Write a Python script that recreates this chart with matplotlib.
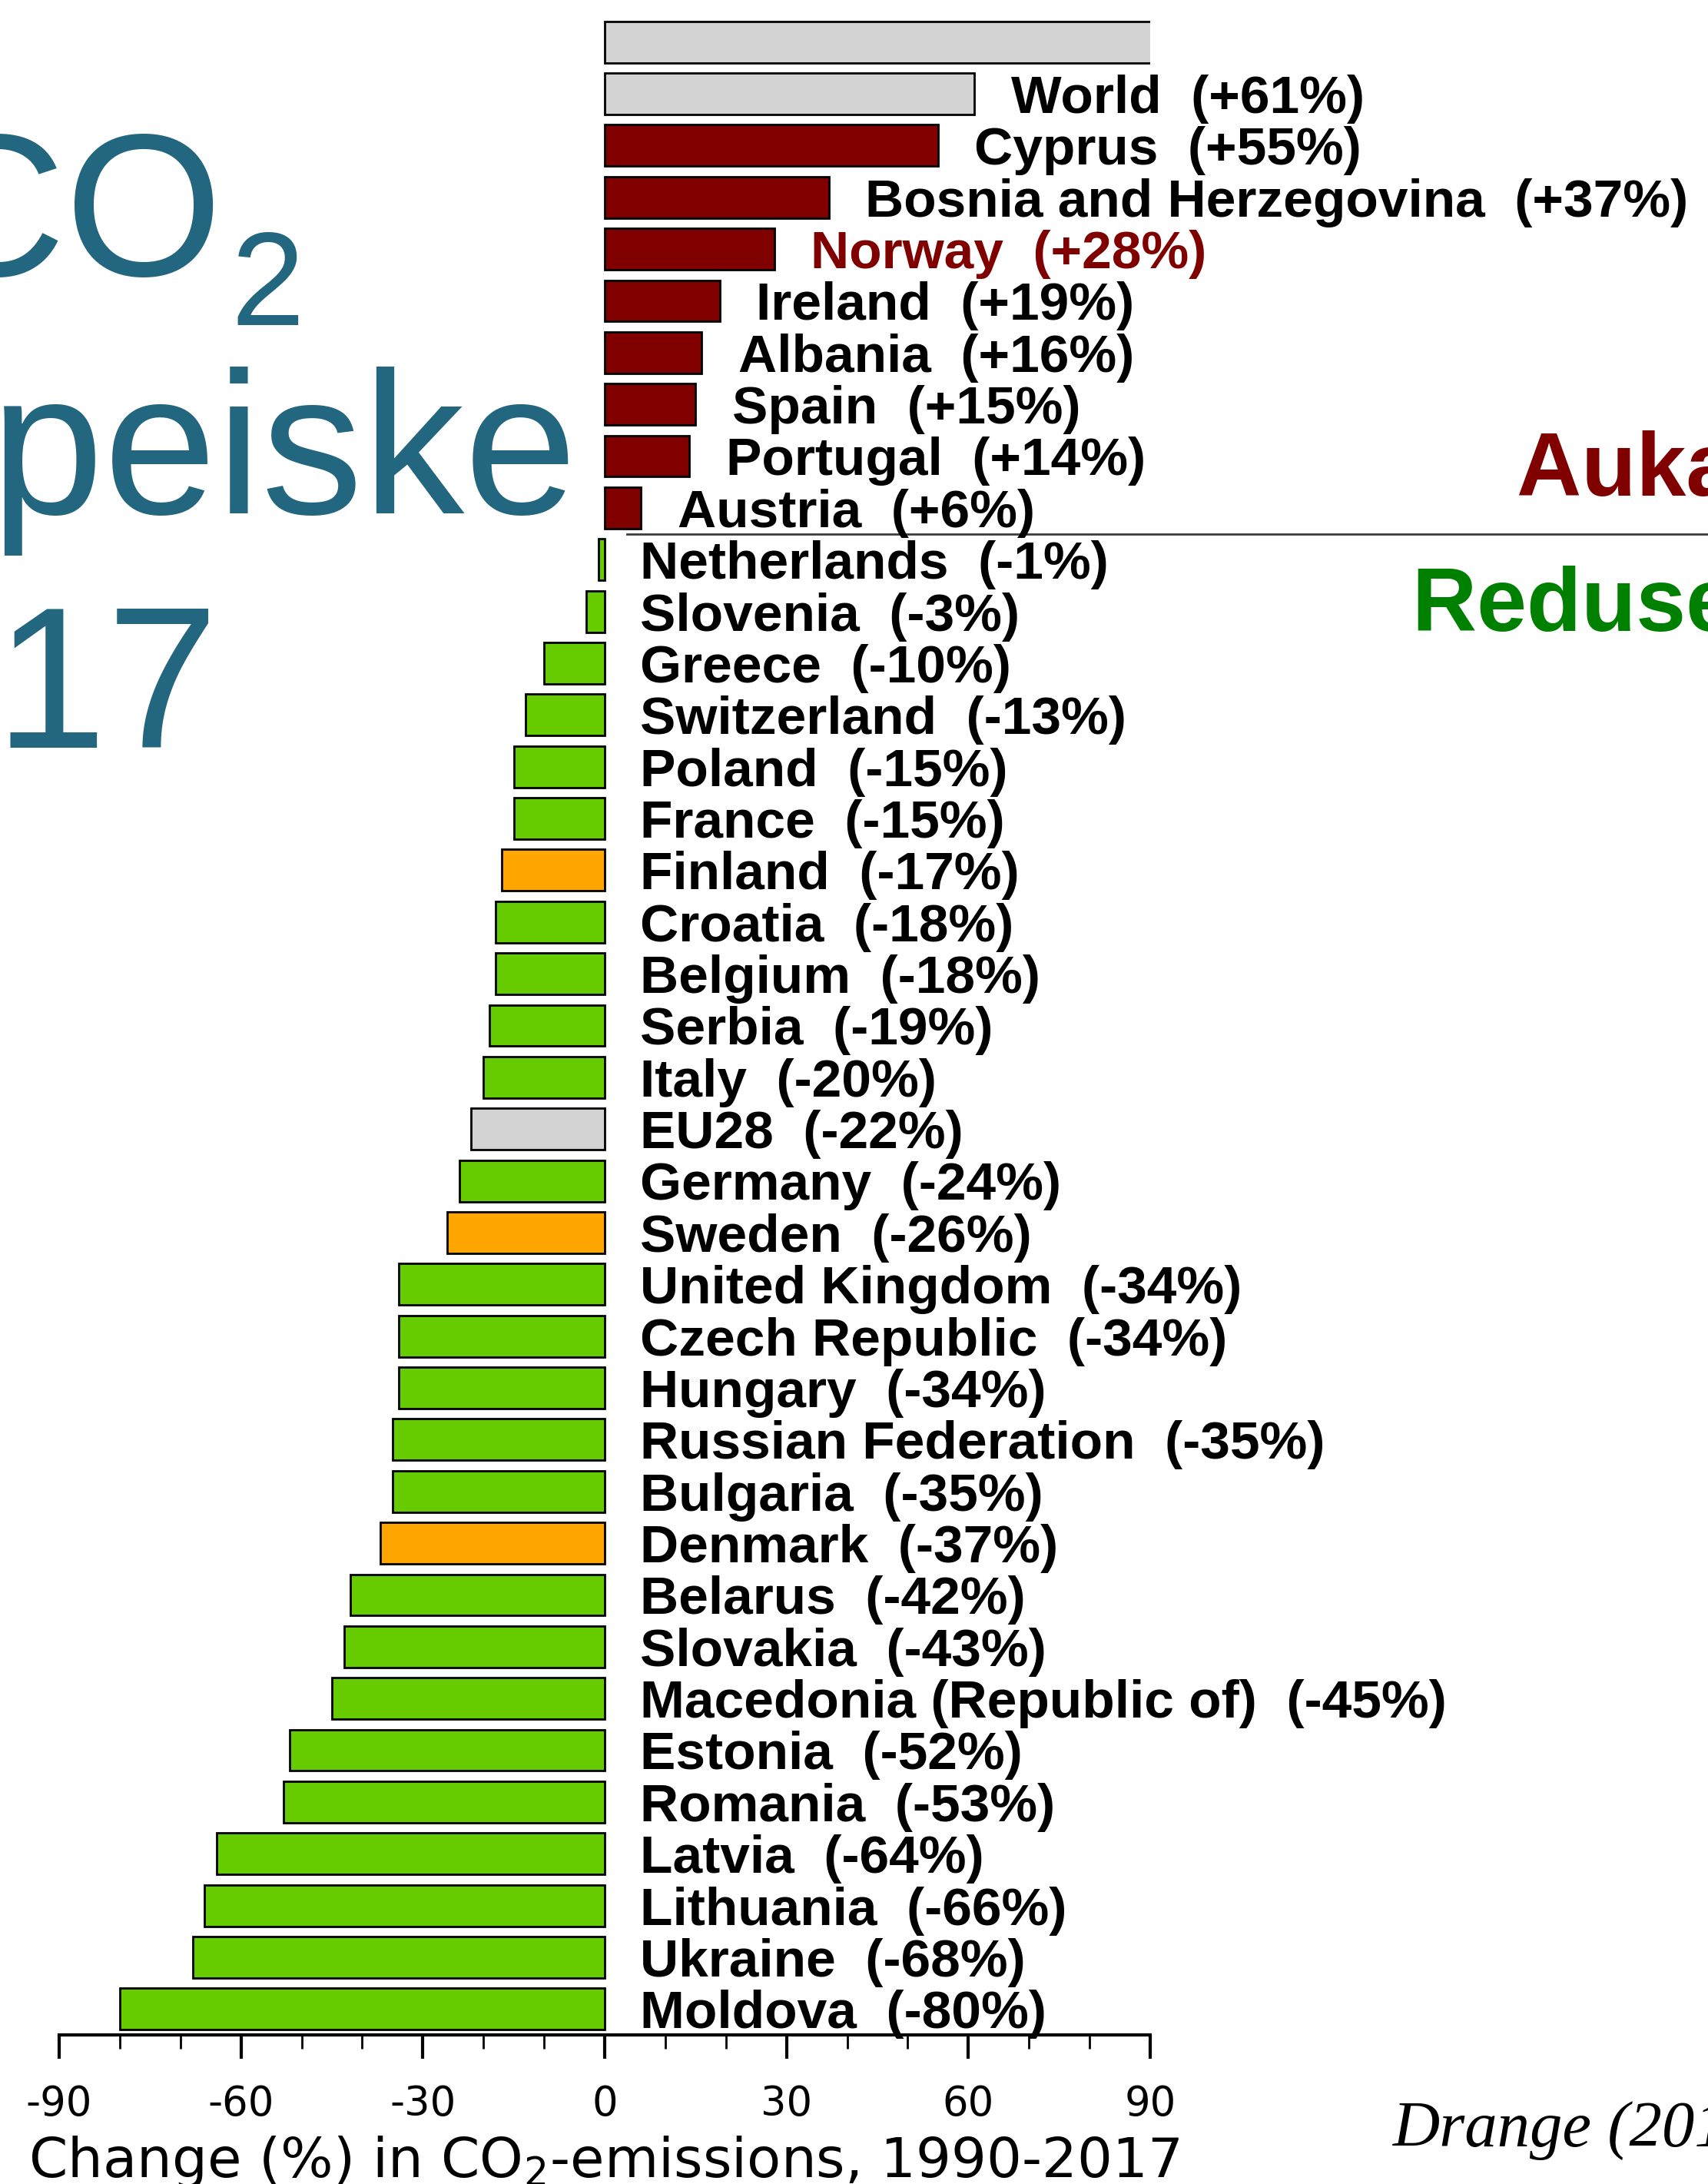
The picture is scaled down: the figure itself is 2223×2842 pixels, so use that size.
"""CO2 change 1990-2017 for European countries, horizontal bar chart."""

import matplotlib
matplotlib.use("Agg")
import matplotlib.pyplot as plt
import numpy as np

# ---- data -------------------------------------------------------------
countries = [
    "", "World", "Cyprus", "Bosnia and Herzegovina", "Norway", "Ireland",
    "Albania", "Spain", "Portugal", "Austria", "Netherlands", "Slovenia",
    "Greece", "Switzerland", "Poland", "France", "Finland", "Croatia",
    "Belgium", "Serbia", "Italy", "EU28", "Germany", "Sweden",
    "United Kingdom", "Czech Republic", "Hungary", "Russian Federation",
    "Bulgaria", "Denmark", "Belarus", "Slovakia", "Macedonia (Republic of)",
    "Estonia", "Romania", "Latvia", "Lithuania", "Ukraine", "Moldova",
]
# first bar runs off the right edge of the axis
change_pct = [
    100, 61, 55, 37, 28, 19, 16, 15, 14, 6, -1, -3, -10, -13, -15, -15,
    -17, -18, -18, -19, -20, -22, -24, -26, -34, -34, -34, -35, -35, -37,
    -42, -43, -45, -52, -53, -64, -66, -68, -80,
]
groups = [
    "ref", "ref", "up", "up", "up", "up", "up", "up", "up", "up",
    "down", "down", "down", "down", "down", "down", "nordic", "down",
    "down", "down", "down", "ref", "down", "nordic", "down", "down",
    "down", "down", "down", "nordic", "down", "down", "down", "down",
    "down", "down", "down", "down", "down",
]
highlight = "Norway"

x_ticks = [-90, -60, -30, 0, 30, 60, 90]
xlabel = r"Change (%) in CO$_2$-emissions, 1990-2017"

GROUP_COLORS = {"ref": "#d3d3d3", "up": "#800000", "down": "#66cc00", "nordic": "#ffa500"}
TITLE_COLOR = "#23667f"

plt.rcParams["font.family"] = ["Liberation Sans", "DejaVu Sans"]
plt.rcParams["axes.unicode_minus"] = False
plt.rcParams["mathtext.fontset"] = "custom"
plt.rcParams["mathtext.rm"] = "DejaVu Sans"
plt.rcParams["mathtext.it"] = "DejaVu Sans:italic"

W, H = 2223, 2842
fig = plt.figure(figsize=(W / 100, H / 100), dpi=100)


def fx(px):
    return px / W


def fy(py):
    return 1 - py / H


ax = fig.add_axes([fx(77), fy(2648), fx(1497 - 77), (2648 - 21) / H])

pos = np.arange(len(countries))
colors = [GROUP_COLORS[g] for g in groups]
ax.barh(pos, change_pct, height=0.8, color=colors, edgecolor="black", linewidth=2)

for i, (name, v) in enumerate(zip(countries, change_pct)):
    if not name:
        continue
    label = f"{name}  ({v:+d}%)"
    x = v + 6 if v > 0 else 5.8
    ax.text(x, i + 0.37, label, va="baseline", ha="left", fontsize=50,
            fontweight="bold", color="#800000" if name == highlight else "black",
            clip_on=False)

ax.set_xlim(-90, 90)
ax.set_ylim(len(countries) - 0.5, -0.5)

for side in ["top", "right", "left"]:
    ax.spines[side].set_visible(False)
ax.spines["bottom"].set_linewidth(3)
ax.set_yticks([])
ax.set_xticks(x_ticks)
ax.set_xticklabels([str(t) for t in x_ticks], family="DejaVu Sans")
ax.set_xticks(np.arange(-90, 91, 10), minor=True)
ax.tick_params(axis="x", which="major", length=22, width=3, pad=24, labelsize=38)
ax.tick_params(axis="x", which="minor", length=13, width=2)

# separator between increase and decrease
n_up = sum(1 for v in change_pct if v > 0)
ax.plot([3.7, 200], [n_up - 0.5, n_up - 0.5], color="#3c3c3c", linewidth=2, clip_on=False)

fig.text(fx(786), fy(2833), xlabel, ha="center", va="baseline", fontsize=52,
         family="DejaVu Sans")

# big title on the left, partly cut by the figure edge
fig.text(fx(290), fy(358), "CO", ha="right", va="baseline", fontsize=190, color=TITLE_COLOR)
fig.text(fx(300), fy(423), "2", ha="left", va="baseline", fontsize=124, color=TITLE_COLOR)
fig.text(fx(752), fy(668), "europeiske", ha="right", va="baseline", fontsize=190, color=TITLE_COLOR)
fig.text(fx(285), fy(973), "2017", ha="right", va="baseline", fontsize=188, color=TITLE_COLOR)

fig.text(fx(1974), fy(645), "Auka utslepp", ha="left", va="baseline", fontsize=84,
         fontweight="bold", color="#800000")
fig.text(fx(1838), fy(821), "Redusert utslepp", ha="left", va="baseline", fontsize=84,
         fontweight="bold", color="#008000")

fig.text(fx(1813), fy(2793), "Drange (2018)", ha="left", va="baseline", fontsize=61,
         family="Liberation Serif", style="italic")

fig.savefig("out.png", dpi=100)
